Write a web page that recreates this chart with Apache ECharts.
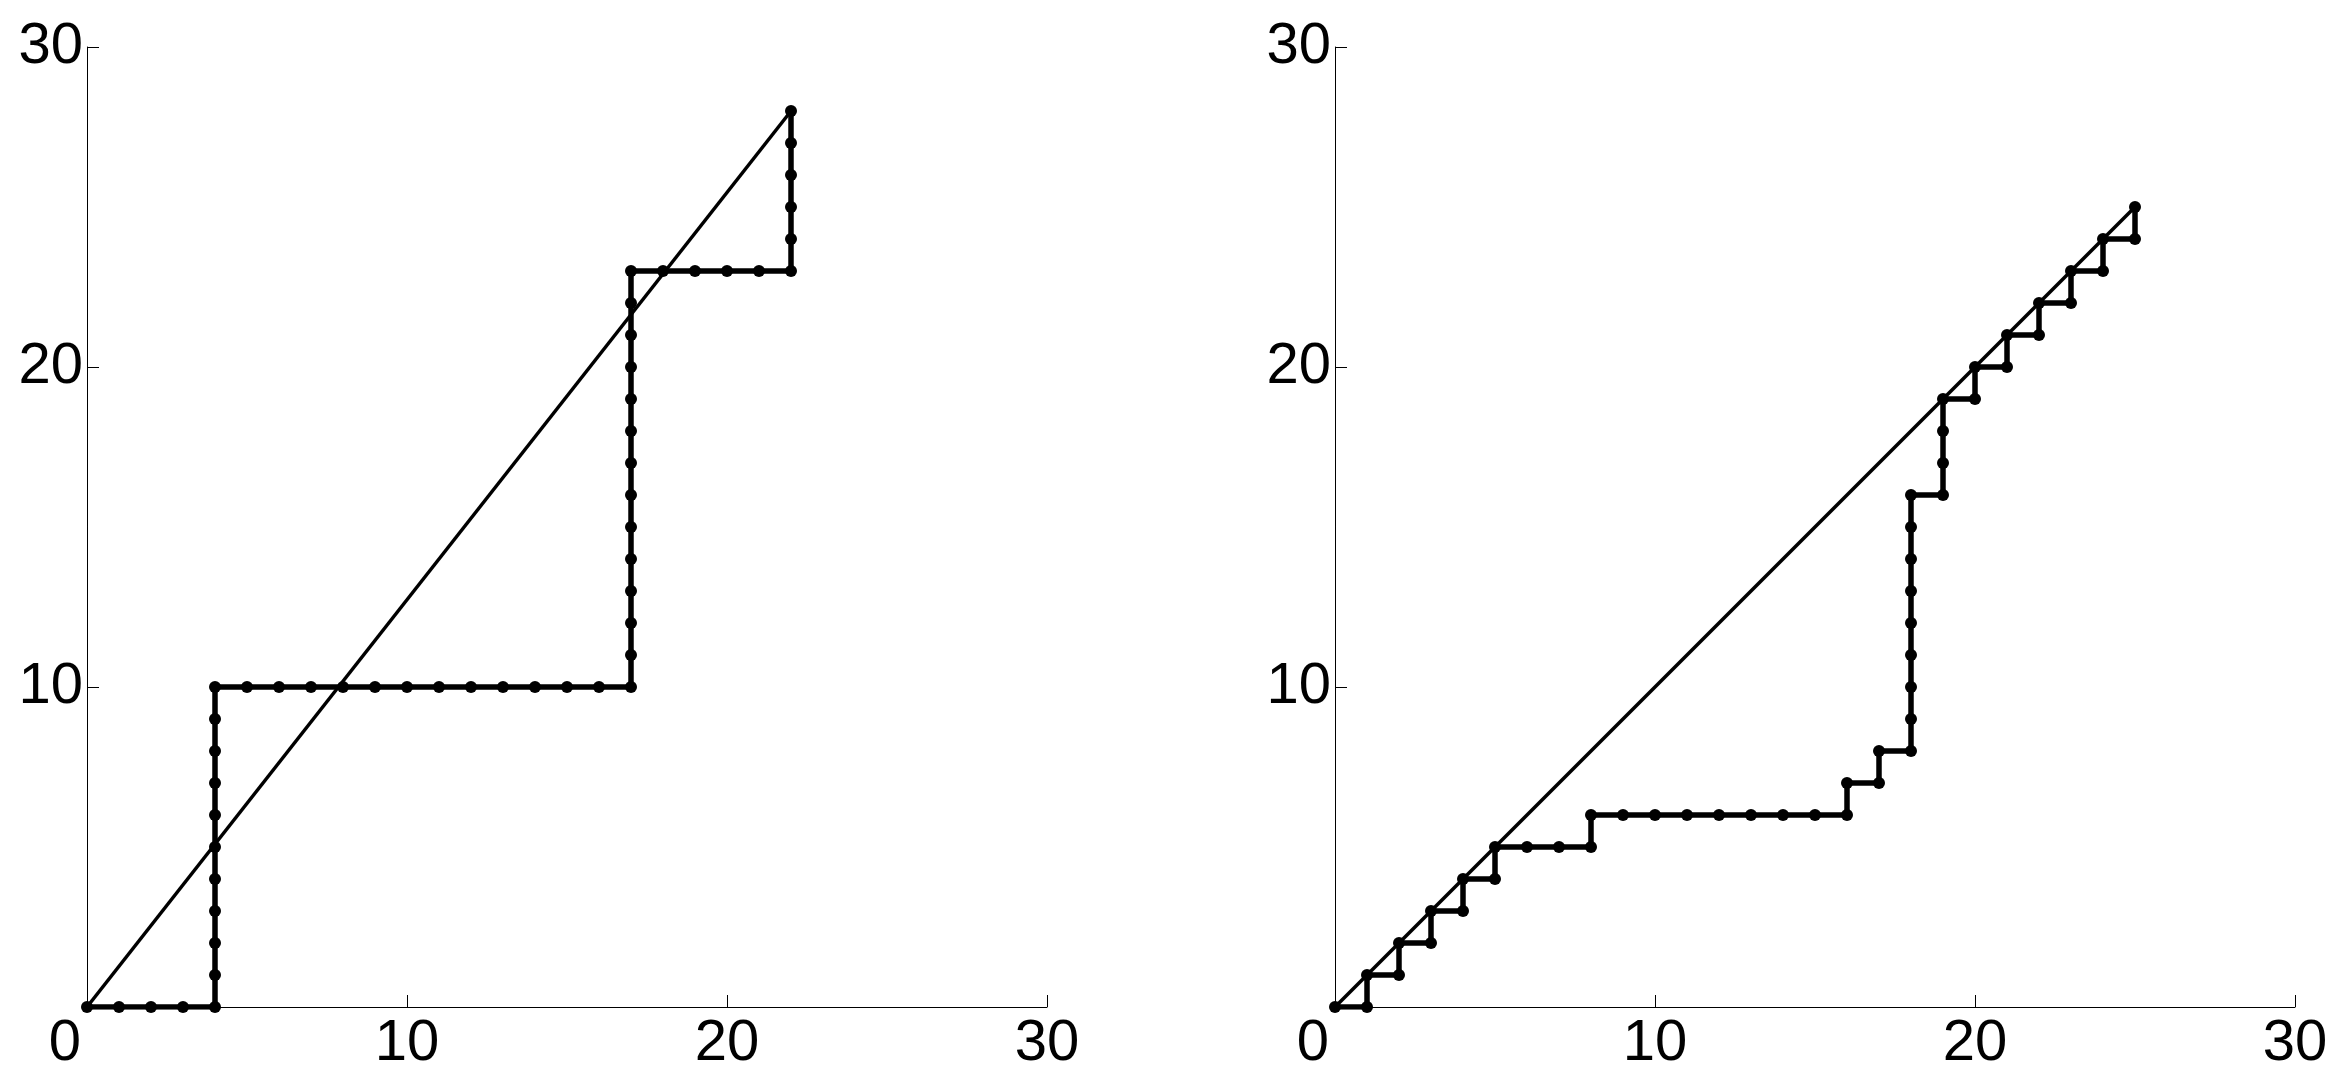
<!DOCTYPE html>
<html>
<head>
<meta charset="utf-8">
<title>lattice paths</title>
<script src="https://cdn.jsdelivr.net/npm/echarts@6/dist/echarts.min.js"></script>
<style>
    html, body { margin: 0; padding: 0; background: #fff; }
    #chart { width: 2344px; height: 1084px; }
</style>
</head>
<body>
<div id="chart"></div>
<script>
// axis ticks (both panels)
let axisTicks = [0, 10, 20, 30];

// left panel: staircase lattice path, one point per lattice step
let leftPath = [
    [0, 0], [1, 0], [2, 0], [3, 0], [4, 0],
    [4, 1], [4, 2], [4, 3], [4, 4], [4, 5], [4, 6], [4, 7], [4, 8], [4, 9], [4, 10],
    [5, 10], [6, 10], [7, 10], [8, 10], [9, 10], [10, 10], [11, 10], [12, 10],
    [13, 10], [14, 10], [15, 10], [16, 10], [17, 10],
    [17, 11], [17, 12], [17, 13], [17, 14], [17, 15], [17, 16], [17, 17],
    [17, 18], [17, 19], [17, 20], [17, 21], [17, 22], [17, 23],
    [18, 23], [19, 23], [20, 23], [21, 23], [22, 23],
    [22, 24], [22, 25], [22, 26], [22, 27], [22, 28]
];
let leftDiagonal = [[0, 0], [22, 28]];

// right panel
let rightPath = [
    [0, 0], [1, 0], [1, 1], [2, 1], [2, 2], [3, 2], [3, 3], [4, 3], [4, 4],
    [5, 4], [5, 5], [6, 5], [7, 5], [8, 5],
    [8, 6], [9, 6], [10, 6], [11, 6], [12, 6], [13, 6], [14, 6], [15, 6], [16, 6],
    [16, 7], [17, 7], [17, 8], [18, 8],
    [18, 9], [18, 10], [18, 11], [18, 12], [18, 13], [18, 14], [18, 15], [18, 16],
    [19, 16], [19, 17], [19, 18], [19, 19], [20, 19], [20, 20], [21, 20], [21, 21],
    [22, 21], [22, 22], [23, 22], [23, 23], [24, 23], [24, 24], [25, 24], [25, 25]
];
let rightDiagonal = [[0, 0], [25, 25]];

let myChart = echarts.init(document.getElementById('chart'));

let labelFont = {
    fontFamily: 'Liberation Sans, Arial, sans-serif',
    fontSize: 58,
    color: '#000'
};

let makeX = (gridIndex) => {
    return {
        type: 'value',
        gridIndex: gridIndex,
        min: axisTicks[0],
        max: axisTicks[axisTicks.length - 1],
        interval: 10,
        axisLine: { show: true, lineStyle: { color: '#000', width: 1 } },
        axisTick: { show: true, inside: true, length: 12, lineStyle: { color: '#000', width: 1 } },
        splitLine: { show: false },
        axisLabel: Object.assign({
            margin: 8,
            showMinLabel: true,
            showMaxLabel: true,
            // the origin label sits left of the axis corner
            formatter: function (v) {
                return v === 0 ? '{z|0}' : String(v);
            },
            rich: {
                z: Object.assign({ padding: [0, 44, 0, 0] }, labelFont)
            }
        }, labelFont)
    };
};

let makeY = (gridIndex) => {
    return {
        type: 'value',
        gridIndex: gridIndex,
        min: axisTicks[0],
        max: axisTicks[axisTicks.length - 1],
        interval: 10,
        axisLine: { show: true, lineStyle: { color: '#000', width: 1 } },
        axisTick: { show: true, inside: true, length: 12, lineStyle: { color: '#000', width: 1 } },
        splitLine: { show: false },
        axisLabel: Object.assign({
            margin: 4,
            formatter: function (v) {
                return v === 0 ? '' : String(v);
            }
        }, labelFont)
    };
};

let diagSeries = (idx, data) => {
    return {
        type: 'line',
        xAxisIndex: idx,
        yAxisIndex: idx,
        data: data,
        symbol: 'none',
        lineStyle: { color: '#000', width: 3.5 },
        silent: true
    };
};

let pathSeries = (idx, data) => {
    return {
        type: 'line',
        xAxisIndex: idx,
        yAxisIndex: idx,
        data: data,
        symbol: 'circle',
        symbolSize: 12,
        showAllSymbol: true,
        itemStyle: { color: '#000' },
        lineStyle: { color: '#000', width: 5.5 },
        silent: true
    };
};

let option = {
    animation: false,
    backgroundColor: '#fff',
    grid: [
        { left: 87, top: 47, width: 960, height: 960 },
        { left: 1335, top: 47, width: 960, height: 960 }
    ],
    xAxis: [makeX(0), makeX(1)],
    yAxis: [makeY(0), makeY(1)],
    series: [
        diagSeries(0, leftDiagonal),
        pathSeries(0, leftPath),
        diagSeries(1, rightDiagonal),
        pathSeries(1, rightPath)
    ]
};
myChart.setOption(option);
</script>
</body>
</html>
